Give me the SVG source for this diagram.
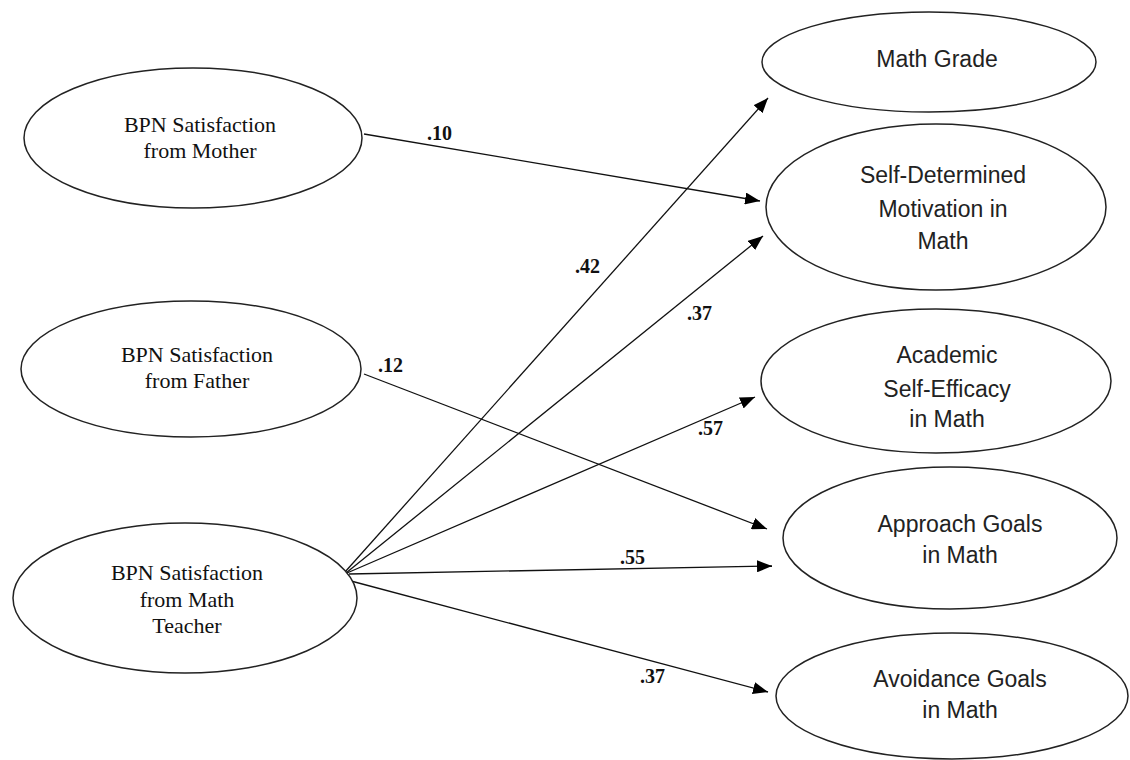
<svg xmlns="http://www.w3.org/2000/svg" width="1130" height="760" viewBox="0 0 1130 760">
<style>
.node ellipse{fill:#fff;stroke:#222;stroke-width:1.5}
.serif{font-family:"Liberation Serif","Times New Roman",serif;font-size:22px;fill:#111;text-anchor:middle}
.sans{font-family:"Liberation Sans",Arial,sans-serif;font-size:23px;fill:#222;text-anchor:middle}
.edge{stroke:#111;stroke-width:1.3;fill:none;marker-end:url(#ah)}
.lbl{font-family:"Liberation Serif","Times New Roman",serif;font-size:20px;font-weight:bold;fill:#111}
</style>
<defs>
<marker id="ah" markerUnits="userSpaceOnUse" markerWidth="16" markerHeight="12" refX="15" refY="6" orient="auto">
<path d="M0,0 L15,6 L0,12 z" fill="#000"/>
</marker>
</defs>
<rect width="1130" height="760" fill="#fff"/>
<g id="connectors">
<line class="edge" x1="364" y1="134" x2="760" y2="201"/>
<line class="edge" x1="345" y1="572" x2="768" y2="98"/>
<line class="edge" x1="346" y1="573" x2="763" y2="236"/>
<line class="edge" x1="364" y1="374" x2="767" y2="529"/>
<line class="edge" x1="347" y1="573" x2="755" y2="397"/>
<line class="edge" x1="349" y1="574" x2="772" y2="566"/>
<line class="edge" x1="351" y1="581" x2="768" y2="692"/>
<text class="lbl" x="427" y="140">.10</text>
<text class="lbl" x="575" y="273">.42</text>
<text class="lbl" x="687" y="320">.37</text>
<text class="lbl" x="378" y="372">.12</text>
<text class="lbl" x="698" y="435">.57</text>
<text class="lbl" x="620" y="564">.55</text>
<text class="lbl" x="640" y="683">.37</text>
</g>
<g id="mother" class="node">
<ellipse cx="193" cy="138" rx="169" ry="70"/>
<text class="serif" x="200" y="132">BPN Satisfaction</text>
<text class="serif" x="200" y="158">from Mother</text>
</g>
<g id="father" class="node">
<ellipse cx="191" cy="369" rx="170" ry="68"/>
<text class="serif" x="197" y="362">BPN Satisfaction</text>
<text class="serif" x="197" y="388">from Father</text>
</g>
<g id="teacher" class="node">
<ellipse cx="185" cy="598" rx="172" ry="75"/>
<text class="serif" x="187" y="580">BPN Satisfaction</text>
<text class="serif" x="187" y="607">from Math</text>
<text class="serif" x="187" y="633">Teacher</text>
</g>
<g id="mathgrade" class="node">
<ellipse cx="929" cy="62" rx="167" ry="50"/>
<text class="sans" x="937" y="67">Math Grade</text>
</g>
<g id="selfdetermined" class="node">
<ellipse cx="936" cy="207" rx="170" ry="83"/>
<text class="sans" x="943" y="183">Self-Determined</text>
<text class="sans" x="943" y="217">Motivation in</text>
<text class="sans" x="943" y="249">Math</text>
</g>
<g id="efficacy" class="node">
<ellipse cx="936" cy="381" rx="175" ry="72"/>
<text class="sans" x="947" y="363">Academic</text>
<text class="sans" x="947" y="397">Self-Efficacy</text>
<text class="sans" x="947" y="427">in Math</text>
</g>
<g id="approach" class="node">
<ellipse cx="950" cy="538" rx="167" ry="71"/>
<text class="sans" x="960" y="532">Approach Goals</text>
<text class="sans" x="960" y="563">in Math</text>
</g>
<g id="avoidance" class="node">
<ellipse cx="952" cy="696" rx="176" ry="63"/>
<text class="sans" x="960" y="687">Avoidance Goals</text>
<text class="sans" x="960" y="718">in Math</text>
</g>
</svg>
